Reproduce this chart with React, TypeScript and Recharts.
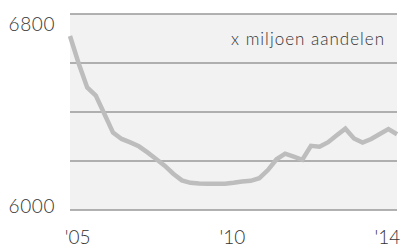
import { LineChart, Line, XAxis, YAxis, CartesianGrid } from 'recharts';

// aandelen, kwartaalcijfers (x miljoen)
const shares = [
  6710, 6599, 6500, 6467, 6392, 6316, 6290, 6276, 6260, 6235,
  6208, 6181, 6148, 6121, 6111, 6108, 6107, 6107, 6107, 6111,
  6116, 6119, 6130, 6163, 6207, 6230, 6218, 6205, 6262, 6258,
  6277, 6305, 6332, 6292, 6275, 6290, 6310, 6330, 6309,
];

const yTicks = [6000, 6200, 6400, 6600, 6800];
const yLabels = [6000, 6800];
const xTicks = [1, 19, 37];
const xLabels = ["'05", "'10", "'14"];
const unitLabel = 'x miljoen aandelen';

const data = shares.map((v, i) => ({ q: i, shares: v }));

const font = 'Lato, "Open Sans", sans-serif';

function YTick(props: any) {
  const { x, y, payload } = props;
  if (!yLabels.includes(payload.value)) return <g />;
  const dy = payload.value === 6800 ? 17 : 3;
  return (
    <text
      x={x - 7}
      y={y + dy}
      textAnchor="end"
      fill="#333"
      fontSize={19}
      fontWeight={300}
      fontFamily={font}
      letterSpacing={0.6}
    >
      {payload.value}
    </text>
  );
}

function XTick(props: any) {
  const { x, y, payload } = props;
  const idx = xTicks.indexOf(payload.value);
  return (
    <text x={x - 1} y={y + 26} textAnchor="middle" fill="#333" fontSize={19} fontWeight={300} fontFamily={font}>
      {xLabels[idx]}
    </text>
  );
}

export default function App() {
  return (
    <div style={{ position: 'absolute', left: 0, top: 0, width: 401, height: 248, background: '#fff' }}>
      <LineChart
        width={401}
        height={248}
        data={data}
        margin={{ top: 14, right: 4, left: 0, bottom: 0 }}
      >
        <CartesianGrid vertical={false} fill="#f2f2f2" stroke="#999" strokeWidth={1.5} />
        <XAxis
          dataKey="q"
          type="number"
          domain={[0, shares.length - 1]}
          ticks={xTicks}
          tick={<XTick />}
          axisLine={false}
          tickLine={false}
          height={38}
        />
        <YAxis
          domain={[6000, 6800]}
          ticks={yTicks}
          tick={<YTick />}
          axisLine={false}
          tickLine={false}
          width={70}
        />
        <Line
          type="linear"
          dataKey="shares"
          stroke="#bdbdbd"
          strokeWidth={4.5}
          dot={false}
          isAnimationActive={false}
        />
      </LineChart>
      <div
        style={{
          position: 'absolute',
          right: 16,
          top: 29,
          fontFamily: font,
          fontWeight: 300,
          fontSize: 17,
          letterSpacing: 1,
          color: '#333',
          lineHeight: '20px',
          whiteSpace: 'nowrap',
        }}
      >
        {unitLabel}
      </div>
    </div>
  );
}
